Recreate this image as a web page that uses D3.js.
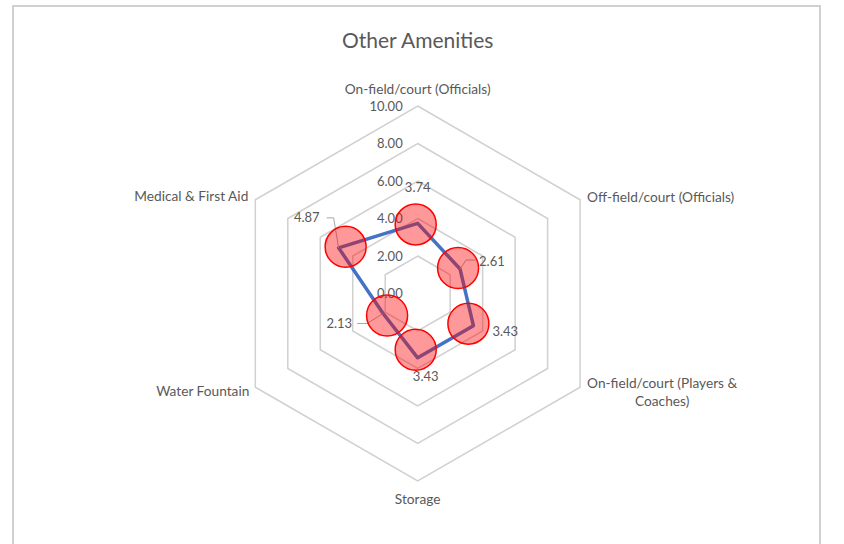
<!DOCTYPE html>
<html>
<head>
<meta charset="utf-8">
<script src="https://cdn.jsdelivr.net/npm/d3@7"></script>
<style>
  body { margin: 0; background: #fff; }
  svg text { font-family: Lato, "Open Sans", sans-serif; fill: #595959; }
</style>
</head>
<body>
<div id="vis"></div>
<script>
// data
let categories = ["On-field/court (Officials)", "Off-field/court (Officials)",
                  "On-field/court (Players & Coaches)", "Storage", "Water Fountain", "Medical & First Aid"]
let values = [3.74, 2.61, 3.43, 3.43, 2.13, 4.87]
let ticks = [0, 2, 4, 6, 8, 10]
let title = "Other Amenities"

let width = 844, height = 544
let cx = 417.7, cy = 293.5, R = 187.5

let svg = d3.select("#vis")
  .append("svg")
  .attr("width", width)
  .attr("height", height)

// chart frame
svg.append("rect")
  .attr("x", 13).attr("y", 6)
  .attr("width", 807).attr("height", 560)
  .attr("fill", "#fff")
  .attr("stroke", "#d0d0d0")
  .attr("stroke-width", 2)

let rScale = d3.scaleLinear().domain([0, 10]).range([0, R])
let angle = i => i * 2 * Math.PI / categories.length
let pt = (i, v) => [cx + rScale(v) * Math.sin(angle(i)), cy - rScale(v) * Math.cos(angle(i))]

let g = svg.append("g")

// hexagon grid
g.selectAll(".ring")
  .data(ticks.filter(t => t > 0))
  .join("path")
  .attr("class", "ring")
  .attr("d", t => d3.line()(categories.map((c, i) => pt(i, t))) + "Z")
  .attr("fill", "none")
  .attr("stroke", "#d0d0d0")
  .attr("stroke-width", 1.5)

// tick labels
g.selectAll(".tick")
  .data(ticks)
  .join("text")
  .attr("class", "tick")
  .attr("x", cx - 15)
  .attr("y", t => cy - rScale(t))
  .attr("dy", "0.35em")
  .attr("text-anchor", "end")
  .style("font-size", "13px")
  .text(t => d3.format(".2f")(t))

// category labels
let catPos = [
  {dx: 0, dy: -17, anchor: "middle"},
  {dx: 7, dy: -3, anchor: "start"},
  {dx: 7, dy: -4, anchor: "start"},
  {dx: 0, dy: 18, anchor: "middle"},
  {dx: -6, dy: 4, anchor: "end"},
  {dx: -7, dy: -4, anchor: "end"}
]
categories.forEach((c, i) => {
  let [x, y] = pt(i, 10)
  let p = catPos[i]
  let t = g.append("text")
    .attr("x", x + p.dx)
    .attr("y", y + p.dy)
    .attr("dy", "0.35em")
    .attr("text-anchor", p.anchor)
    .style("font-size", "13.7px")
  if (i === 2) {
    // wrapped in two lines, centred on the first one
    let first = t.append("tspan").text("On-field/court (Players &")
    let w = first.node().getComputedTextLength()
    t.attr("text-anchor", "middle").attr("x", null)
    first.attr("x", x + p.dx + w / 2)
    t.append("tspan").attr("x", x + p.dx + w / 2).attr("dy", 18).text("Coaches)")
  } else {
    t.text(c)
  }
})

// series line
g.append("path")
  .attr("d", d3.line()(values.map((v, i) => pt(i, v))) + "Z")
  .attr("fill", "none")
  .attr("stroke", "#4472C4")
  .attr("stroke-width", 3.5)
  .attr("stroke-linejoin", "round")

// leader lines and data labels
let labelPos = [
  {dx: 0, dy: -36, anchor: "middle", leader: null},
  {dx: 19, dy: -8, anchor: "start", leader: [[6, -9], [16, -9]]},
  {dx: 19, dy: 6, anchor: "start", leader: null},
  {dx: 8, dy: 19, anchor: "middle", leader: null},
  {dx: -31, dy: 10, anchor: "end", leader: [[-16, 10], [-26, 10]]},
  {dx: -19, dy: -30, anchor: "end", leader: [[-5, -30], [-12, -30]]}
]
// the markers sit slightly inside the line vertices in the original
let markerNudge = [[-2, 1], [-2, -1], [-5, -2], [-2, -8], [4, 2], [7, -1]]

g.selectAll(".leader")
  .data(values.map((v, i) => i).filter(i => labelPos[i].leader))
  .join("path")
  .attr("class", "leader")
  .attr("d", i => {
    let [x, y] = pt(i, values[i])
    return d3.line()([[x, y]].concat(labelPos[i].leader.map(d => [x + d[0], y + d[1]])))
  })
  .attr("fill", "none")
  .attr("stroke", "#a6a6a6")
  .attr("stroke-width", 1)

// markers
g.selectAll(".marker")
  .data(values)
  .join("circle")
  .attr("class", "marker")
  .attr("cx", (v, i) => pt(i, v)[0] + markerNudge[i][0])
  .attr("cy", (v, i) => pt(i, v)[1] + markerNudge[i][1])
  .attr("r", 20.5)
  .attr("fill", "rgba(255,0,0,0.4)")
  .attr("stroke", "#ff0000")
  .attr("stroke-width", 1.5)

g.selectAll(".dlabel")
  .data(values)
  .join("text")
  .attr("class", "dlabel")
  .attr("x", (v, i) => pt(i, v)[0] + labelPos[i].dx)
  .attr("y", (v, i) => pt(i, v)[1] + labelPos[i].dy)
  .attr("dy", "0.35em")
  .attr("text-anchor", (v, i) => labelPos[i].anchor)
  .style("font-size", "13px")
  .text(v => d3.format(".2f")(v))

// title
svg.append("text")
  .attr("x", cx)
  .attr("y", 41)
  .attr("dy", "0.35em")
  .attr("text-anchor", "middle")
  .style("font-size", "21px")
  .text(title)
</script>
</body>
</html>
